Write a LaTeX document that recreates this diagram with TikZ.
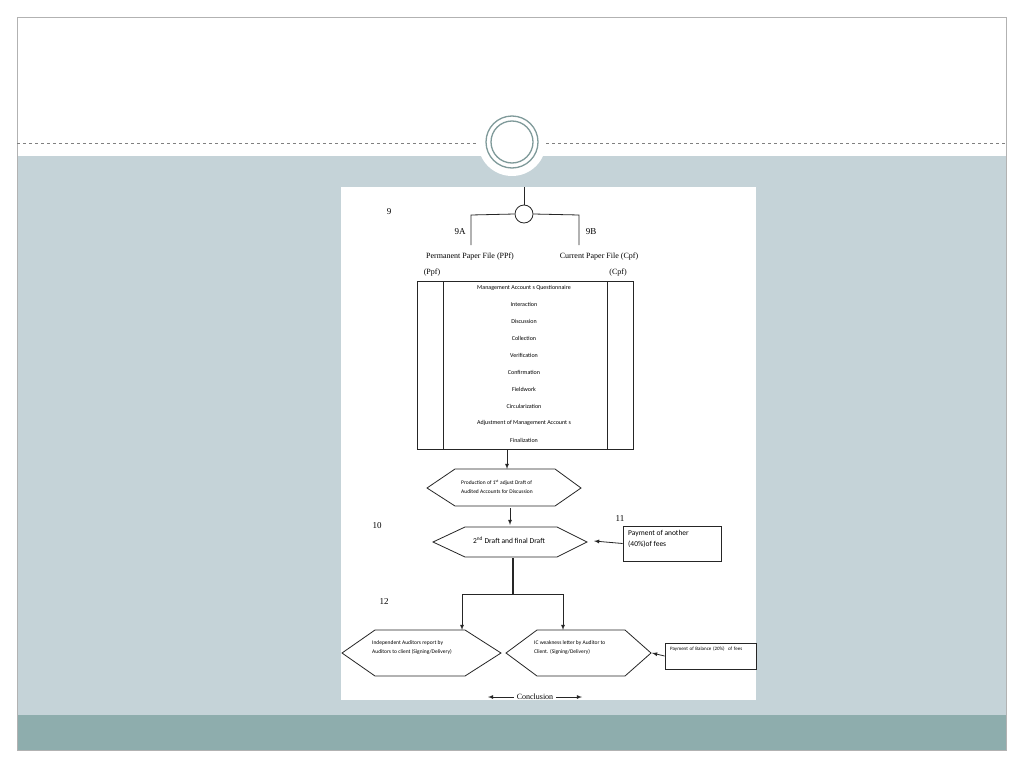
\documentclass[tikz,border=0pt]{standalone}
\usepackage{fontspec}
\setmainfont{Liberation Serif}
\newfontfamily\calfnt{Carlito}
\begin{document}
\begin{tikzpicture}[x=1pt,y=-1pt,
  lbl/.style={font=\fontsize{9}{10}\selectfont, inner sep=0pt},
  sm/.style={font=\calfnt\fontsize{6}{7.5}\selectfont, inner sep=0pt},
  ln/.style={draw=black!85, line width=0.8pt},
  arr/.style={ln, -latex},
  hexa/.style={ln, fill=white}]
\useasboundingbox (0,0) rectangle (1024,768);
\fill[white] (0,0) rectangle (1024,768);
\fill[fill={rgb,255:red,197;green,211;blue,216}] (17,156) rectangle (1006,715);
\fill[fill={rgb,255:red,142;green,173;blue,173}] (17,715) rectangle (1006,750);
\draw[gray!60, line width=0.5pt] (17,17) rectangle (1006,750);
\draw[gray, dashed, line width=0.5pt] (17,143) -- (478,143) (546,143) -- (1006,143);
\fill[white] (512,142) circle (34);
\draw[color={rgb,255:red,127;green,154;blue,154}, line width=1.3pt] (512,142) circle (26) (512,142) circle (21);
% paper
\fill[white] (341,187) rectangle (756,700);
\node[circle, ln, minimum size=18pt, inner sep=0pt] (c) at (524,214) {};
\coordinate (ctop) at (524,187);
\draw[ln] (ctop) -- (c.north);
\coordinate (l1) at (471,215); \coordinate (l2) at (471,245);
\coordinate (r1) at (579,215); \coordinate (r2) at (579,245);
\draw[ln] (c.west) -- (l1) -- (l2);
\draw[ln] (c.east) -- (r1) -- (r2);
\node[lbl] (n9) at (389,212) {9};
\node[lbl] (n9a) at (460,232) {9A};
\node[lbl] (n9b) at (591,232) {9B};
\node[lbl,font=\fontsize{8}{9}\selectfont] (ppf) at (470,257) {Permanent Paper File (PPf)};
\node[lbl,font=\fontsize{8}{9}\selectfont] (cpf) at (599,257) {Current Paper File (Cpf)};
\node[lbl,font=\fontsize{8}{9}\selectfont] (ppf2) at (432,273) {(Ppf)};
\node[lbl,font=\fontsize{8}{9}\selectfont] (cpf2) at (618,273) {(Cpf)};
% big box
\node[ln, minimum width=216pt, minimum height=168pt, inner sep=0pt] (box) at (525,365) {};
\draw[ln] (443,281) -- (443,449) (607,281) -- (607,449);
\foreach \t [count=\i] in {Management Account s Questionnaire, Interaction, Discussion, Collection, Verification, Confirmation, Fieldwork, Circularization, Adjustment of Management Account s, Finalization}
  \node[sm] (it\i) at (524,{288+16.9*(\i-1)}) {\t};
% hex1
\draw[hexa] (427,488) -- (455,469) -- (555,469) -- (581,488) -- (555,506) -- (455,506) -- cycle;
\node[sm, align=left, font=\calfnt\fontsize{5.5}{9}\selectfont] (h1) at (497,487) {Production of 1\textsuperscript{st} adjust Draft of\\Audited Accounts for Discussion};
\coordinate (b1) at (507,449); \coordinate (h1t) at (507,469);
\draw[arr] (b1) -- (h1t);
% hex2
\draw[hexa] (433,542) -- (465,527) -- (557,527) -- (587,542) -- (557,557) -- (465,557) -- cycle;
\node[sm, font=\calfnt\fontsize{7.5}{9}\selectfont] (h2) at (509,540) {2\textsuperscript{nd} Draft and final Draft};
\coordinate (h1b) at (510,508); \coordinate (h2t) at (510,525);
\draw[arr] (h1b) -- (h2t);
\node[lbl] (n10) at (377,526) {10};
\node[lbl] (n11) at (620,519) {11};
\node[ln, minimum width=98pt, minimum height=35pt, inner sep=0pt] (p40) at (672,543.5) {};
\node[sm, align=left, anchor=north west, font=\calfnt\fontsize{7.5}{11}\selectfont] (p40t) at (628,530) {Payment of another\\(40\%)of fees};
\coordinate (h2r) at (594,541);
\draw[arr] (p40.west) -- (h2r);
% split
\coordinate (s0) at (513,558); \coordinate (s1) at (513,594);
\coordinate (sl) at (462,594); \coordinate (sr) at (563,594);
\coordinate (h3t) at (462,630); \coordinate (h4t) at (563,630);
\draw[ln, line width=1.6pt] (s0) -- (s1);
\draw[ln] (sl) -- (sr);
\draw[arr] (sl) -- (h3t);
\draw[arr] (sr) -- (h4t);
\node[lbl] (n12) at (384,602) {12};
% hex3, hex4
\draw[hexa] (342,653) -- (375,630) -- (465,630) -- (501,653) -- (465,676) -- (375,676) -- cycle;
\node[sm, align=left, anchor=north west, font=\calfnt\fontsize{5.5}{9}\selectfont] (h3) at (372,640) {Independent Auditors report by\\Auditors to client (Signing/Delivery)};
\draw[hexa] (506,653) -- (537,630) -- (625,630) -- (651,653) -- (625,676) -- (537,676) -- cycle;
\node[sm, align=left, anchor=north west, font=\calfnt\fontsize{5.5}{9}\selectfont] (h4) at (534,640) {IC weakness letter by Auditor to\\Client. (Signing/Delivery)};
\node[ln, minimum width=91pt, minimum height=26pt, inner sep=0pt] (p20) at (710.5,656) {};
\node[sm, align=left, anchor=north west, text width=85pt, font=\calfnt\fontsize{5}{8}\selectfont] (p20t) at (670,647) {Payment of Balance (20\%)~ of fees};
\coordinate (h4r) at (652,653);
\draw[arr] (p20.west) -- (h4r);
% conclusion
\node[lbl,font=\fontsize{8}{9}\selectfont] (conc) at (535,697) {Conclusion};
\coordinate (cl) at (488,697); \coordinate (cr) at (582,697);
\draw[arr] (conc.west) ++(-3,0) -- (cl);
\draw[arr] (conc.east) ++(3,0) -- (cr);
\end{tikzpicture}
\end{document}
